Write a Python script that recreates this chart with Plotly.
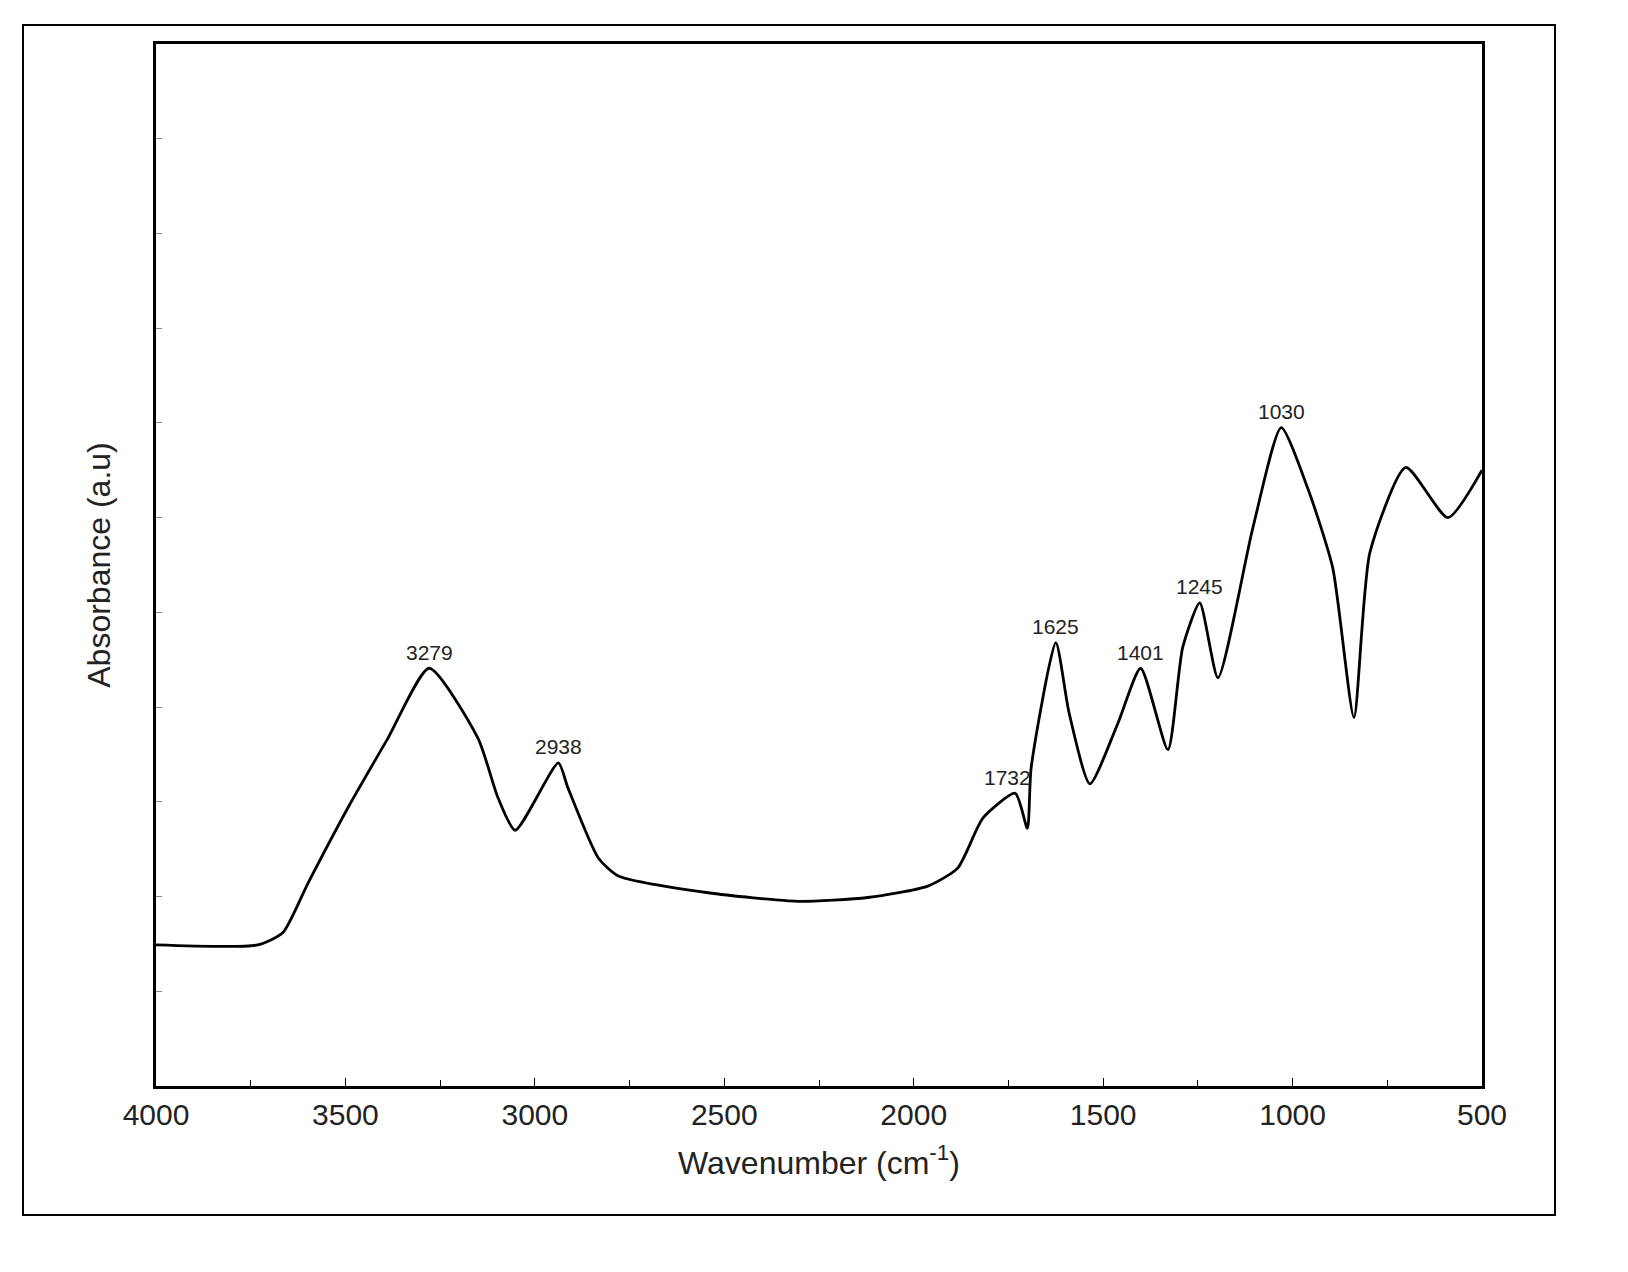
import plotly.graph_objects as go

wavenumber = [4000,3731,3665,3599,3493,3388,3279,3150,3097,3052,2938,2913,2833,2781,2543,2306,2121,1963,1884,1817,1732,1700,1690,1625,1590,1535,1461,1401,1329,1290,1245,1197,1105,1030,960,894,838,796,701,590,500]
absorb = [1.49,1.49,1.62,2.14,2.94,3.67,4.41,3.67,3.04,2.70,3.41,3.15,2.41,2.22,2.04,1.95,1.99,2.11,2.30,2.83,3.09,2.72,3.36,4.68,3.94,3.19,3.83,4.41,3.55,4.63,5.10,4.31,5.89,6.95,6.31,5.47,3.89,5.63,6.53,6.00,6.50]

peak_labels = ["3279","2938","1732","1625","1401","1245","1030"]
peak_x = [3279,2938,1732,1625,1401,1245,1030]
peak_y = [4.41,3.41,3.09,4.68,4.41,5.10,6.95]

fig = go.Figure()
fig.add_trace(go.Scatter(x=wavenumber, y=absorb, mode="lines",
                         line=dict(color="black", width=2.8, shape="spline", smoothing=0.6),
                         showlegend=False))
for t, x, y in zip(peak_labels, peak_x, peak_y):
    fig.add_annotation(x=x, y=y, text=t, showarrow=False, yshift=16,
                       xshift=-8 if t == "1732" else 0,
                       font=dict(family="Arial, Liberation Sans", size=21, color="#222"))

fig.update_layout(
    width=1628, height=1272, plot_bgcolor="white", paper_bgcolor="white",
    margin=dict(l=148, r=154, t=36, b=194),
    font=dict(family="Arial, Liberation Sans", color="#222"),
    xaxis=dict(range=[4000, 500], dtick=500, ticks="inside", ticklen=8, tickcolor="black",
               minor=dict(dtick=250, ticks="inside", ticklen=6, tickcolor="black"),
               showgrid=False, zeroline=False, showline=True, mirror=True,
               linecolor="black", linewidth=2.5, tickfont=dict(size=30),
               title=dict(text="Wavenumber (cm<sup>-1</sup>)", font=dict(size=32), standoff=22)),
    yaxis=dict(range=[0, 11], dtick=1, ticks="inside", ticklen=6, tickcolor="#888",
               showticklabels=False, showgrid=False, zeroline=False, showline=True,
               mirror=True, linecolor="black", linewidth=2.5,
               title=dict(text="Absorbance (a.u)", font=dict(size=32), standoff=34)),
)
fig.add_shape(type="rect", xref="paper", yref="paper",
              x0=-133/1326, x1=1+73/1326, y0=-129/1042, y1=1+19/1042,
              line=dict(color="black", width=2))
fig.write_html("out.html")
